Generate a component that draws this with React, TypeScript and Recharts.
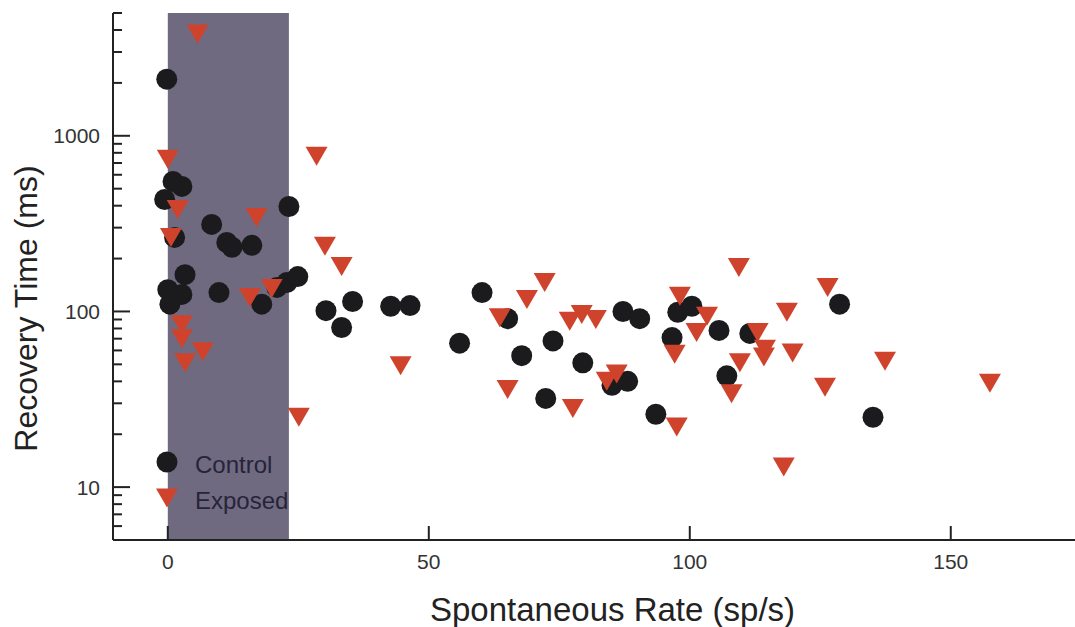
import { ScatterChart, Scatter, XAxis, YAxis, ReferenceArea, Legend, Label } from "recharts";

const controlRate = [
  -0.2, 1.0, 2.7, -0.6, 1.3, 8.4, 11.3, 12.3, 16.1, 23.2, 3.3, 0, 2.7, 0.4, 9.8,
  18.0, 20.9, 22.8, 24.9, 30.3, 35.4, 33.3, 42.7, 46.4, 55.9, 60.2, 65.1, 67.8,
  73.8, 72.4, 79.5, 87.2, 90.4, 97.7, 100.4, 96.6, 105.6, 111.5, 85.1, 88.1,
  107.1, 93.5, 128.7, 135.1,
];
const controlRecovery = [
  2100, 550, 515, 434, 264, 313, 247, 232, 238, 396, 162, 133, 125, 110, 128,
  110, 137, 146, 158, 101, 114, 81, 107, 108, 66, 128, 91, 56,
  68, 32, 51, 100, 91, 99, 107, 71, 78, 75, 38, 40,
  43, 26, 110, 25,
];

const exposedRate = [
  5.7, 0, 28.5, 1.9, 17.0, 0.6, 30.1, 33.3, 15.7, 19.9, 2.7, 2.7, 6.7, 3.3, 25.1,
  44.6, 63.6, 68.8, 72.2, 65.1, 77.6, 77.0, 79.3, 82.0, 109.4, 98.1, 103.3, 101.3,
  97.1, 126.4, 118.6, 113.0, 114.4, 114.2, 119.7, 109.6, 108.0, 86.0, 84.1, 97.5,
  125.9, 118.0, 137.4, 157.5,
];
const exposedRecovery = [
  3800, 735, 764, 381, 343, 264, 235, 180, 120, 135, 84, 70, 59, 51, 25,
  49, 92, 117, 146, 36, 28, 88, 96, 90, 178, 122, 94, 76,
  57, 137, 99, 76, 61, 55, 58, 51, 34, 44, 40, 22,
  37, 13, 52, 39,
];

const xTicks = [0, 50, 100, 150];
const yMajor = [10, 100, 1000];
const yTicks = [
  5, 6, 7, 8, 9, 10, 20, 30, 40, 50, 60, 70, 80, 90, 100, 200, 300, 400, 500,
  600, 700, 800, 900, 1000, 2000, 3000, 4000, 5000,
];
const shadedRange = [0, 23.2];

const controlData = controlRate.map((x, i) => ({ x, y: controlRecovery[i] }));
const exposedData = exposedRate.map((x, i) => ({ x, y: exposedRecovery[i] }));

const FONT = "'Liberation Sans', Arial, Helvetica, sans-serif";
const AXIS = "#222";
const DOT = "#1b1b1d";
const TRI = "#cf432d";
const SHADE = "#706a80";
const Y_MARGIN = 13;
const X_MARGIN = 10;

function CircleDot(props: any) {
  const { cx, cy } = props;
  return <circle cx={cx} cy={cy} r={10.5} fill={DOT} />;
}

function TriangleDot(props: any) {
  const { cx, cy } = props;
  const w = 22;
  const h = 19;
  return (
    <path
      d={`M${cx - w / 2},${cy - h / 2} L${cx + w / 2},${cy - h / 2} L${cx},${cy + h / 2} Z`}
      fill={TRI}
    />
  );
}

function YTick(props: any) {
  const { x, y, payload } = props;
  const axisX = x + Y_MARGIN;
  const major = yMajor.includes(payload.value);
  return (
    <g>
      <line x1={axisX} x2={axisX + (major ? 17 : 9)} y1={y} y2={y} stroke={AXIS} strokeWidth={2} />
      {major && (
        <text x={x} y={y + 7.5} textAnchor="end" fontSize={21} fontFamily={FONT} fill="#333">
          {payload.value}
        </text>
      )}
    </g>
  );
}

function XTick(props: any) {
  const { x, y, payload } = props;
  const axisY = y - X_MARGIN;
  return (
    <g>
      <line x1={x} x2={x} y1={axisY} y2={axisY - 14} stroke={AXIS} strokeWidth={2} />
      <text x={x} y={axisY + 29} textAnchor="middle" fontSize={21} fontFamily={FONT} fill="#333">
        {payload.value}
      </text>
    </g>
  );
}

function LegendBox() {
  const row = { display: "flex", alignItems: "center", height: 36 } as const;
  const txt = { marginLeft: 16, paddingTop: 6, fontSize: 24, fontFamily: FONT, color: "#26243a" };
  return (
    <div>
      <div style={row}>
        <svg width={24} height={24}>
          <circle cx={12} cy={12} r={10.5} fill={DOT} />
        </svg>
        <span style={txt}>Control</span>
      </div>
      <div style={row}>
        <svg width={24} height={24}>
          <path d="M1,2.5 L23,2.5 L12,21.5 Z" fill={TRI} />
        </svg>
        <span style={txt}>Exposed</span>
      </div>
    </div>
  );
}

export default function App() {
  return (
    <div style={{ position: "absolute", left: 0, top: 0, background: "#fff" }}>
      <ScatterChart width={1075} height={627} margin={{ top: 13, right: 0, bottom: 0, left: 0 }}>
        <XAxis
          type="number"
          dataKey="x"
          domain={[-10.5, 173.8]}
          ticks={xTicks}
          interval={0}
          allowDataOverflow
          height={87}
          tickSize={0}
          tickMargin={X_MARGIN}
          tickLine={false}
          tick={<XTick />}
          axisLine={{ stroke: AXIS, strokeWidth: 2 }}
        >
          <Label
            content={(p: any) => {
              const vb = p.viewBox;
              return (
                <text
                  x={vb.x + 317}
                  y={vb.y + 81}
                  textAnchor="start"
                  fontSize={33}
                  fontFamily={FONT}
                  fill={AXIS}
                >
                  Spontaneous Rate (sp/s)
                </text>
              );
            }}
          />
        </XAxis>
        <YAxis
          type="number"
          dataKey="y"
          scale="log"
          domain={[5, 5000]}
          allowDataOverflow
          ticks={yTicks}
          interval={0}
          width={113}
          tickSize={0}
          tickMargin={Y_MARGIN}
          tickLine={false}
          tick={<YTick />}
          axisLine={{ stroke: AXIS, strokeWidth: 2 }}
        >
          <Label
            content={(p: any) => {
              const vb = p.viewBox;
              const cx = 37;
              const cy = vb.y + vb.height / 2 + 32;
              return (
                <text
                  x={cx}
                  y={cy}
                  transform={`rotate(-90 ${cx} ${cy})`}
                  textAnchor="middle"
                  fontSize={32}
                  fontFamily={FONT}
                  fill={AXIS}
                >
                  Recovery Time (ms)
                </text>
              );
            }}
          />
        </YAxis>
        <ReferenceArea
          x1={shadedRange[0]}
          x2={shadedRange[1]}
          y1={5}
          y2={5000}
          fill={SHADE}
          fillOpacity={1}
          stroke="none"
        />
        <Scatter name="Control" data={controlData} shape={<CircleDot />} isAnimationActive={false} />
        <Scatter name="Exposed" data={exposedData} shape={<TriangleDot />} isAnimationActive={false} />
        <Legend
          layout="vertical"
          align="center"
          verticalAlign="middle"
          content={<LegendBox />}
          wrapperStyle={{ left: 155, top: 444, width: 200 }}
        />
      </ScatterChart>
    </div>
  );
}
